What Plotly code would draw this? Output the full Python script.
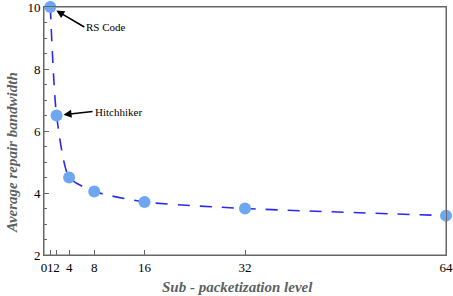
import plotly.graph_objects as go

x_vals = [1, 2, 4, 8, 16, 32, 64]
y_vals = [10.0, 6.5, 4.5, 4.05, 3.71, 3.5, 3.27]
x_ticks = [0, 1, 2, 4, 8, 16, 32, 64]
y_ticks = [2, 4, 6, 8, 10]

serif = "Liberation Serif, Times New Roman, serif"
title_color = "#5a6262"
axis_color = "#666666"

fig = go.Figure()
fig.add_trace(go.Scatter(
    x=x_vals, y=y_vals, mode="lines",
    line=dict(color="#2a2aee", width=1.6, dash="12px,10px", shape="spline", smoothing=0.6),
    hoverinfo="skip", showlegend=False, cliponaxis=False))
fig.add_trace(go.Scatter(
    x=x_vals, y=y_vals, mode="markers",
    marker=dict(color="#6ea7f0", size=12, line=dict(width=0)),
    showlegend=False, cliponaxis=False))

fig.add_annotation(x=x_vals[0], y=y_vals[0], xref="x", yref="y",
                   text="RS Code", showarrow=True, ax=34, ay=20,
                   xanchor="left", yanchor="middle",
                   arrowhead=2, arrowsize=1, arrowwidth=1.6, arrowcolor="black",
                   standoff=7, font=dict(family=serif, size=11, color="black"))
fig.add_annotation(x=x_vals[1], y=y_vals[1], xref="x", yref="y",
                   text="Hitchhiker", showarrow=True, ax=36, ay=-4,
                   xanchor="left", yanchor="middle",
                   arrowhead=2, arrowsize=1, arrowwidth=1.6, arrowcolor="black",
                   standoff=7, font=dict(family=serif, size=11, color="black"))

L, R, T, B = 44, 7, 7, 41
W, H = 453, 296
pw, ph = W - L - R, H - T - B

def px_to_paper(px, py):
    return (px - L) / pw, 1 - (py - T) / ph

ax_, ay_ = px_to_paper(12, 153)
fig.add_annotation(x=ax_, y=ay_, xref="paper", yref="paper",
                   text="<b><i>Average repair bandwidth</i></b>",
                   showarrow=False, textangle=-90, xanchor="center", yanchor="middle",
                   font=dict(family=serif, size=15, color=title_color))
bx_, by_ = px_to_paper(237, 287)
fig.add_annotation(x=bx_, y=by_, xref="paper", yref="paper",
                   text="<b><i>Sub - packetization level</i></b>",
                   showarrow=False, xanchor="center", yanchor="middle",
                   font=dict(family=serif, size=15, color=title_color))

fig.add_shape(type="rect", xref="paper", yref="paper", x0=0, x1=1, y0=0, y1=1,
              line=dict(color=axis_color, width=1), layer="below")

fig.update_xaxes(range=[0, 64], tickvals=x_ticks, ticktext=[str(v) for v in x_ticks],
                 tickangle=0, ticklabeloverflow="allow", automargin=False,
                 ticks="inside", ticklen=5, tickwidth=1, tickcolor=axis_color,
                 showline=True, linecolor=axis_color, linewidth=1, mirror=True,
                 showgrid=False, zeroline=False,
                 tickfont=dict(family=serif, size=13, color="black"))
fig.update_yaxes(range=[2, 10], tickvals=y_ticks, ticklabeloverflow="allow", automargin=False,
                 ticks="inside", ticklen=5, tickwidth=1, tickcolor=axis_color,
                 minor=dict(dtick=0.5, ticks="inside", ticklen=3, tickcolor=axis_color, showgrid=False),
                 showline=True, linecolor=axis_color, linewidth=1, mirror=True,
                 showgrid=False, zeroline=False,
                 tickfont=dict(family=serif, size=13, color="black"))

fig.update_layout(width=W, height=H, margin=dict(l=L, r=R, t=T, b=B, autoexpand=False),
                  plot_bgcolor="white", paper_bgcolor="white")
fig.write_html("out.html", config={"displayModeBar": False},
               post_script="document.body.style.margin='0';document.body.style.overflow='hidden';")
